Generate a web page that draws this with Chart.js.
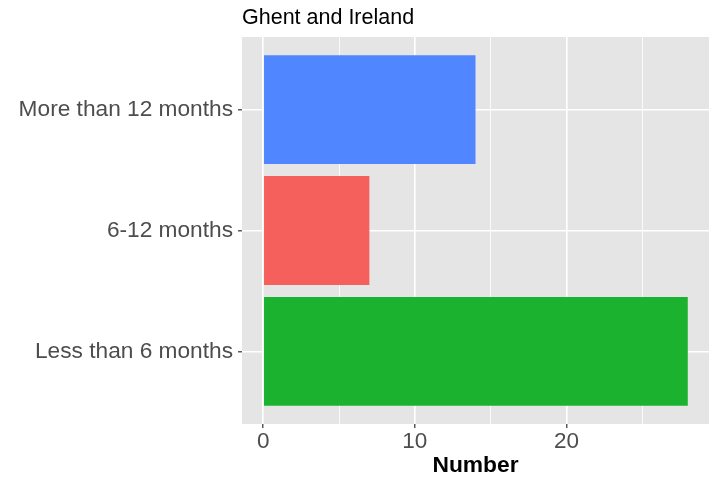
<!DOCTYPE html>
<html>
<head>
<meta charset="utf-8">
<script src="https://cdn.jsdelivr.net/npm/chart.js@4/dist/chart.umd.min.js"></script>
<style>
  html, body { margin: 0; padding: 0; background: #fff; }
  #wrap { width: 711px; height: 479px; }
</style>
</head>
<body>
<div id="wrap"><canvas id="chart" width="711" height="479"></canvas></div>
<script>
// data, bottom to top as in the picture
const categories = ["Less than 6 months", "6-12 months", "More than 12 months"];
const counts = [28, 7, 14];
const barColors = ["#1AB22E", "#F5605D", "#5086FF"];
const xTicks = [0, 5, 10, 15, 20, 25];
const chartTitle = "Ghent and Ireland";
const xTitle = "Number";

const FONT = "'Liberation Sans', Arial, Helvetica, sans-serif";

// panel background + title, ggplot style
const panelPlugin = {
  id: 'panel',
  beforeDraw(chart) {
    let ctx = chart.ctx, a = chart.chartArea;
    ctx.save();
    ctx.fillStyle = '#E5E5E5';
    ctx.fillRect(a.left, a.top, a.right - a.left, a.bottom - a.top);
    ctx.restore();
  },
  afterDraw(chart) {
    let ctx = chart.ctx, a = chart.chartArea;
    ctx.save();
    ctx.fillStyle = '#000';
    ctx.font = '21.5px ' + FONT;
    ctx.textAlign = 'left';
    ctx.textBaseline = 'alphabetic';
    ctx.fillText(chartTitle, a.left, 24);
    ctx.restore();
  }
};

let points = categories.map(function (c, i) { return { x: counts[i], y: i + 1 }; });

new Chart(document.getElementById('chart'), {
  type: 'bar',
  data: {
    datasets: [{
      data: points,
      backgroundColor: barColors,
      borderWidth: 0,
      barPercentage: 0.9,
      categoryPercentage: 1
    }]
  },
  options: {
    indexAxis: 'y',
    responsive: false,
    animation: false,
    layout: { padding: { top: 37, right: 2, left: 0, bottom: 0 } },
    plugins: { legend: { display: false }, tooltip: { enabled: false }, title: { display: false } },
    scales: {
      x: {
        type: 'linear',
        min: -1.4,
        max: 29.4,
        afterBuildTicks: function (s) { s.ticks = xTicks.map(function (v) { return { value: v }; }); },
        afterFit: function (s) { s.height = 55; },
        border: { display: false },
        grid: {
          color: '#FFFFFF',
          lineWidth: function (c) { return c.tick && c.tick.value % 10 === 0 ? 1.6 : 0.8; },
          tickColor: function (c) { return c.tick && c.tick.value % 10 === 0 ? '#333333' : 'rgba(0,0,0,0)'; },
          tickLength: 4,
          tickWidth: 1.2
        },
        ticks: {
          autoSkip: false,
          maxRotation: 0,
          padding: 0,
          color: '#4D4D4D',
          font: { family: FONT, size: 22.5 },
          callback: function (v) { return v % 10 === 0 ? String(v) : ''; }
        },
        title: {
          display: true,
          text: xTitle,
          color: '#000',
          font: { family: FONT, size: 22.8, weight: 'bold' },
          padding: { top: 0, bottom: 0 }
        }
      },
      y: {
        type: 'linear',
        min: 0.4,
        max: 3.6,
        offset: false,
        afterBuildTicks: function (s) { s.ticks = categories.map(function (c, i) { return { value: i + 1 }; }); },
        afterFit: function (s) { s.width = 242; },
        border: { display: false },
        grid: {
          offset: false,
          color: '#FFFFFF',
          lineWidth: 1.6,
          tickColor: '#333333',
          tickLength: 4,
          tickWidth: 1.2
        },
        ticks: {
          autoSkip: false,
          padding: 5,
          color: '#4D4D4D',
          font: { family: FONT, size: 22.7 },
          callback: function (v) { return categories[Math.round(v) - 1] || ''; }
        }
      }
    }
  },
  plugins: [panelPlugin]
});
</script>
</body>
</html>
